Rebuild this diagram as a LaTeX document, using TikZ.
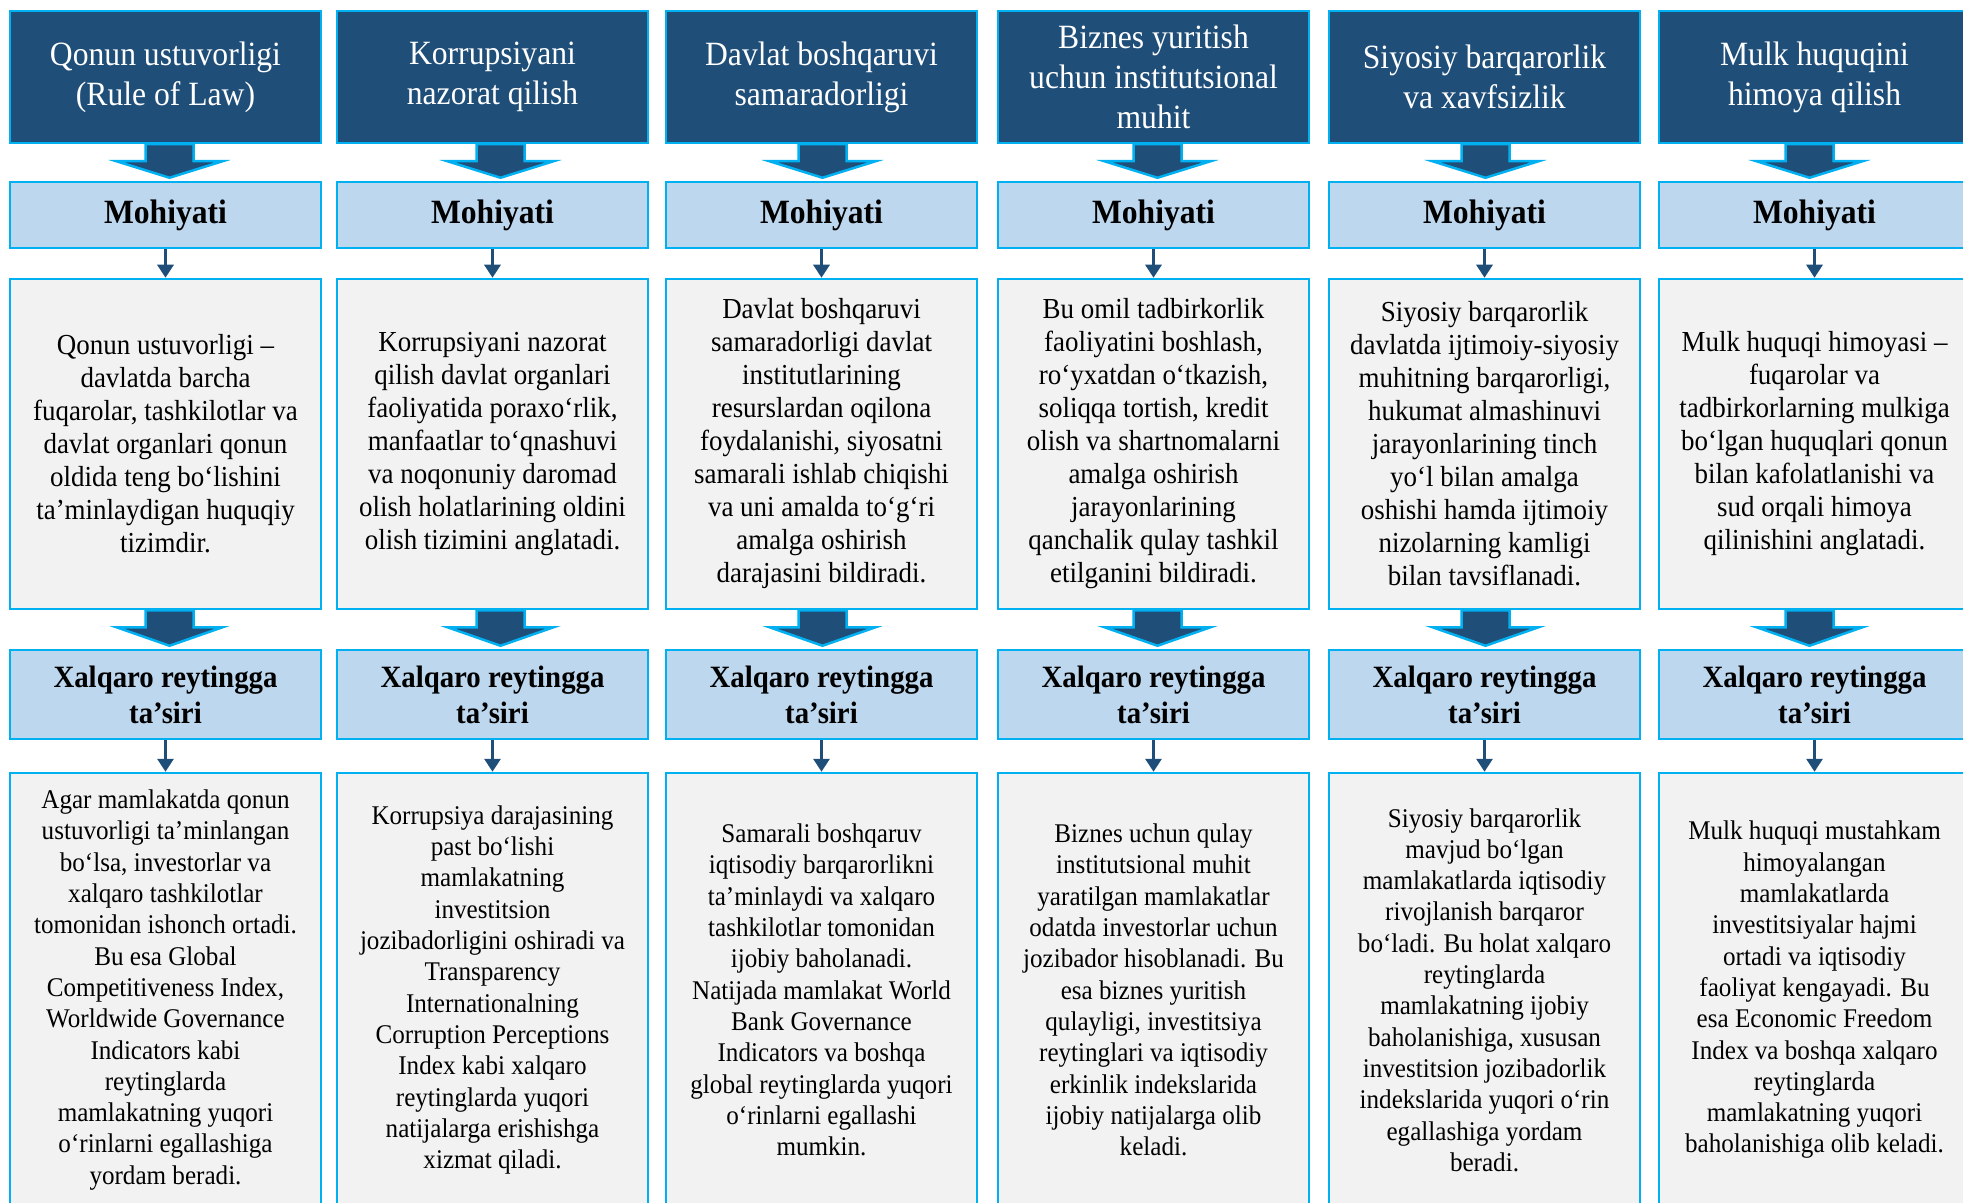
\documentclass[tikz,border=0pt]{standalone}
\usepackage{fontspec}
\setmainfont{Liberation Serif}[FakeStretch=0.93]
\usetikzlibrary{calc,arrows.meta}
\definecolor{hdrblue}{HTML}{1F4E79}
\definecolor{cyanline}{HTML}{00B0F0}
\definecolor{lightblue}{HTML}{BDD7EE}
\definecolor{boxgray}{HTML}{F2F2F2}
\tikzset{
  boxbase/.style={draw=cyanline, line width=1.25pt, align=center, inner sep=0pt, minimum width=155.5pt},
  hdr/.style={boxbase, fill=hdrblue, text=white, minimum height=66pt, font=\fontsize{17}{20}\selectfont},
  subhdr/.style={boxbase, fill=lightblue, minimum height=33pt, font=\fontsize{17}{20}\selectfont\bfseries},
  subhdrtwo/.style={boxbase, fill=lightblue, minimum height=44.5pt, font=\fontsize{15.5}{18}\selectfont\bfseries},
  desctxt/.style={boxbase, fill=boxgray, minimum height=165pt, font=\fontsize{14.5}{16.5}\selectfont},
  bottxt/.style={boxbase, fill=boxgray, minimum height=217pt, font=\fontsize{13.5}{15.65}\selectfont},
  smallarr/.style={draw=hdrblue, line width=1.5pt, -{Triangle[width=8pt,length=6.5pt]}},
  bigarr/.style={fill=hdrblue, draw=cyanline, line width=1.25pt, line join=miter}
}
\newcommand{\bigarrow}[3]{%
  \filldraw[bigarr] ($(#1.south)+(#3-24,0)$) -- ($(#1.south)+(#3+24,0)$) -- ($(#1.south)+(#3+24,17)$) -- ($(#1.south)+(#3+53,17)$) -- ($(#2.north)+(#3,-3)$) -- ($(#1.south)+(#3-53,17)$) -- ($(#1.south)+(#3-24,17)$) -- cycle;
}
\newcommand{\mkcolumn}[6]{%
  \node[hdr] (t#1) at (#2,77) {#4};
  \node[subhdr] (m#1) at (#2,215) {Mohiyati};
  \node[desctxt] (d#1) at (#2,444) {#5};
  \node[subhdrtwo] (x#1) at (#2,694.5) {Xalqaro reytingga\\ta’siri};
  \node[bottxt] (b#1) at (#2,990) {#6};
  \draw[smallarr] (m#1.south) -- (d#1.north);
  \draw[smallarr] (x#1.south) -- (b#1.north);
  \bigarrow{t#1}{m#1}{#3}
  \bigarrow{d#1}{x#1}{#3}
}
\begin{document}
\begin{tikzpicture}[x=0.5pt,y=-0.5pt]
\useasboundingbox (0,0) rectangle (1963,1203);
\fill[white] (0,0) rectangle (1963,1203);
\begin{scope}
\clip (0,0) rectangle (1963,1203);
\mkcolumn{1}{165.5}{4}{Qonun ustuvorligi\\(Rule of Law)}
{Qonun ustuvorligi –\\davlatda barcha\\fuqarolar, tashkilotlar va\\davlat organlari qonun\\oldida teng bo‘lishini\\ta’minlaydigan huquqiy\\tizimdir.}
{Agar mamlakatda qonun\\ustuvorligi ta’minlangan\\bo‘lsa, investorlar va\\xalqaro tashkilotlar\\tomonidan ishonch ortadi.\\Bu esa Global\\Competitiveness Index,\\Worldwide Governance\\Indicators kabi\\reytinglarda\\mamlakatning yuqori\\o‘rinlarni egallashiga\\yordam beradi.}
\mkcolumn{2}{492.5}{8}{Korrupsiyani\\nazorat qilish}
{Korrupsiyani nazorat\\qilish davlat organlari\\faoliyatida poraxo‘rlik,\\manfaatlar to‘qnashuvi\\va noqonuniy daromad\\olish holatlarining oldini\\olish tizimini anglatadi.}
{Korrupsiya darajasining\\past bo‘lishi\\mamlakatning\\investitsion\\jozibadorligini oshiradi va\\Transparency\\Internationalning\\Corruption Perceptions\\Index kabi xalqaro\\reytinglarda yuqori\\natijalarga erishishga\\xizmat qiladi.}
\mkcolumn{3}{821.5}{1}{Davlat boshqaruvi\\samaradorligi}
{Davlat boshqaruvi\\samaradorligi davlat\\institutlarining\\resurslardan oqilona\\foydalanishi, siyosatni\\samarali ishlab chiqishi\\va uni amalda to‘g‘ri\\amalga oshirish\\darajasini bildiradi.}
{Samarali boshqaruv\\iqtisodiy barqarorlikni\\ta’minlaydi va xalqaro\\tashkilotlar tomonidan\\ijobiy baholanadi.\\Natijada mamlakat World\\Bank Governance\\Indicators va boshqa\\global reytinglarda yuqori\\o‘rinlarni egallashi\\mumkin.}
\mkcolumn{4}{1153.5}{4}{Biznes yuritish\\uchun institutsional\\muhit}
{Bu omil tadbirkorlik\\faoliyatini boshlash,\\ro‘yxatdan o‘tkazish,\\soliqqa tortish, kredit\\olish va shartnomalarni\\amalga oshirish\\jarayonlarining\\qanchalik qulay tashkil\\etilganini bildiradi.}
{Biznes uchun qulay\\institutsional muhit\\yaratilgan mamlakatlar\\odatda investorlar uchun\\jozibador hisoblanadi. Bu\\esa biznes yuritish\\qulayligi, investitsiya\\reytinglari va iqtisodiy\\erkinlik indekslarida\\ijobiy natijalarga olib\\keladi.}
\mkcolumn{5}{1484.5}{1}{Siyosiy barqarorlik\\va xavfsizlik}
{Siyosiy barqarorlik\\davlatda ijtimoiy-siyosiy\\muhitning barqarorligi,\\hukumat almashinuvi\\jarayonlarining tinch\\yo‘l bilan amalga\\oshishi hamda ijtimoiy\\nizolarning kamligi\\bilan tavsiflanadi.}
{Siyosiy barqarorlik\\mavjud bo‘lgan\\mamlakatlarda iqtisodiy\\rivojlanish barqaror\\bo‘ladi. Bu holat xalqaro\\reytinglarda\\mamlakatning ijobiy\\baholanishiga, xususan\\investitsion jozibadorlik\\indekslarida yuqori o‘rin\\egallashiga yordam\\beradi.}
\mkcolumn{6}{1814.5}{-5}{Mulk huquqini\\himoya qilish}
{Mulk huquqi himoyasi –\\fuqarolar va\\tadbirkorlarning mulkiga\\bo‘lgan huquqlari qonun\\bilan kafolatlanishi va\\sud orqali himoya\\qilinishini anglatadi.}
{Mulk huquqi mustahkam\\himoyalangan\\mamlakatlarda\\investitsiyalar hajmi\\ortadi va iqtisodiy\\faoliyat kengayadi. Bu\\esa Economic Freedom\\Index va boshqa xalqaro\\reytinglarda\\mamlakatning yuqori\\baholanishiga olib keladi.}
\end{scope}
\end{tikzpicture}
\end{document}
